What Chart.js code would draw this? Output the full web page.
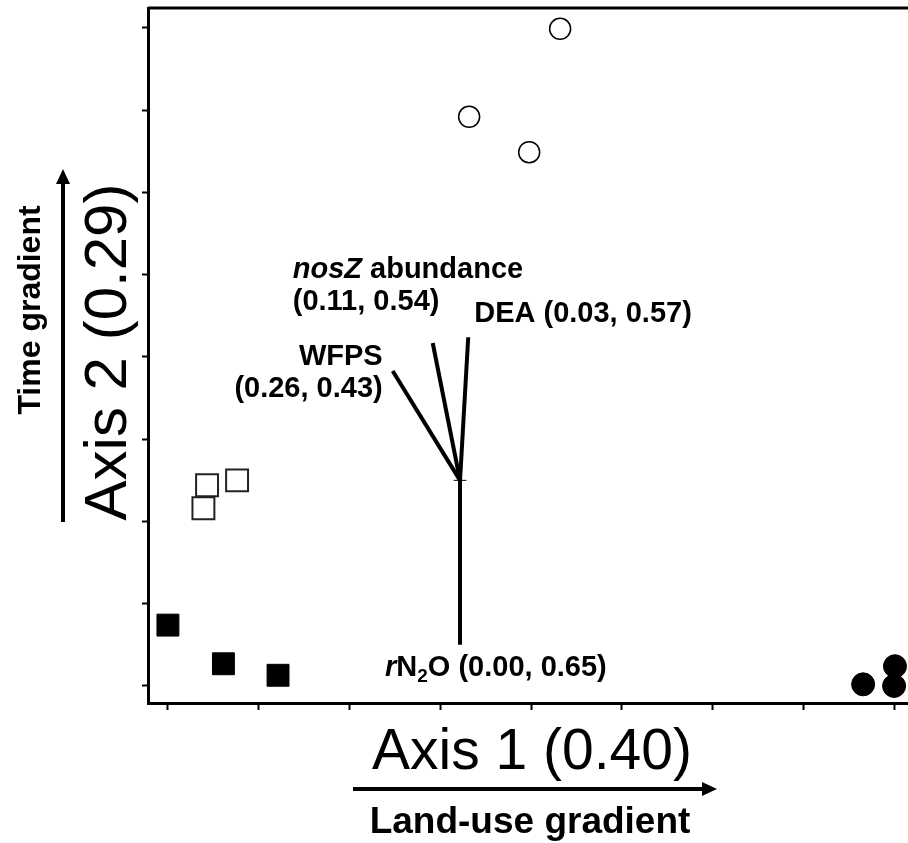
<!DOCTYPE html>
<html>
<head>
<meta charset="utf-8">
<script src="https://cdn.jsdelivr.net/npm/chart.js@4.4.1/dist/chart.umd.min.js"></script>
<style>
  html, body { margin: 0; padding: 0; background: #fff; }
  canvas { display: block; }
</style>
</head>
<body>
<canvas id="ordChart" width="908" height="843"></canvas>
<script>
// tick positions (no tick labels on this plot)
const xTicks = [0, 1, 2, 3, 4, 5, 6, 7, 8];
const yTicks = [0, 1, 2, 3, 4, 5, 6, 7, 8];

// sample scores, one group per symbol
const openCircleX = [4.32, 3.32, 3.98];
const openCircleY = [7.99, 6.92, 6.49];
const openSquareX = [0.44, 0.77, 0.40];
const openSquareY = [2.44, 2.50, 2.16];
const filledSquareX = [0.01, 0.62, 1.22];
const filledSquareY = [0.74, 0.27, 0.13];
const filledCircleX = [7.65, 8.00, 7.99];
const filledCircleY = [0.02, 0.24, 0.00];

// environmental vectors
const vectorNames = ['rN2O', 'DEA', 'nosZ', 'WFPS'];
const vectorOrigin = [3.22, 2.50];
const vectorEndX = [3.22, 3.31, 2.92, 2.48];
const vectorEndY = [0.50, 4.24, 4.17, 3.83];
const vectorCoords = ['(0.00, 0.65)', '(0.03, 0.57)', '(0.11, 0.54)', '(0.26, 0.43)'];

const xTitle = 'Axis 1 (0.40)';
const yTitle = 'Axis 2 (0.29)';
const xGradient = 'Land-use gradient';
const yGradient = 'Time gradient';

const FONT = "'Liberation Sans', Arial, sans-serif";

function pts(xs, ys) {
  return xs.map((x, i) => ({ x: x, y: ys[i] }));
}

const vectorSets = vectorNames.map((n, i) => ({
  label: n,
  data: [{ x: vectorOrigin[0], y: vectorOrigin[1] }, { x: vectorEndX[i], y: vectorEndY[i] }],
  showLine: true,
  borderColor: '#000',
  borderWidth: 4,
  pointRadius: 0
}));

// little cross bar at the vector origin
vectorSets.push({
  label: 'origin',
  data: [{ x: vectorOrigin[0] - 0.07, y: vectorOrigin[1] }, { x: vectorOrigin[0] + 0.07, y: vectorOrigin[1] }],
  showLine: true,
  borderColor: '#000',
  borderWidth: 1,
  pointRadius: 0
});

// draws rich text pieces: [{t, italic, sub}]
function drawPieces(ctx, pieces, x, y, align, size) {
  const fontFor = p => (p.italic ? 'italic ' : '') + 'bold ' + (p.sub ? Math.round(size * 0.65) : size) + 'px ' + FONT;
  let total = 0;
  pieces.forEach(p => { ctx.font = fontFor(p); total += ctx.measureText(p.t).width; });
  let cx = align === 'right' ? x - total : (align === 'center' ? x - total / 2 : x);
  ctx.textAlign = 'left';
  ctx.textBaseline = 'middle';
  pieces.forEach(p => {
    ctx.font = fontFor(p);
    ctx.fillText(p.t, cx, p.sub ? y + size * 0.3 : y);
    cx += ctx.measureText(p.t).width;
  });
}

const extras = {
  id: 'extras',
  afterDraw(chart) {
    const ctx = chart.ctx;
    const a = chart.chartArea;
    const xs = chart.scales.x, ys = chart.scales.y;
    ctx.save();
    ctx.fillStyle = '#000';
    ctx.strokeStyle = '#000';

    // top frame line
    ctx.lineWidth = 3;
    ctx.beginPath();
    ctx.moveTo(a.left, a.top);
    ctx.lineTo(a.right, a.top);
    ctx.stroke();

    // vector labels, offset from the vector tips
    const ex = i => xs.getPixelForValue(vectorEndX[i]);
    const ey = i => ys.getPixelForValue(vectorEndY[i]);
    drawPieces(ctx, [{ t: 'r', italic: true }, { t: 'N' }, { t: '2', sub: true }, { t: 'O ' + vectorCoords[0] }], ex(0) - 75, ey(0) + 23, 'left', 29);
    drawPieces(ctx, [{ t: 'DEA ' + vectorCoords[1] }], ex(1) + 6, ey(1) - 23, 'left', 29);
    drawPieces(ctx, [{ t: 'nosZ', italic: true }, { t: ' abundance' }], ex(2) - 140, ey(2) - 73, 'left', 29);
    drawPieces(ctx, [{ t: vectorCoords[2] }], ex(2) - 140, ey(2) - 41, 'left', 29);
    drawPieces(ctx, [{ t: 'WFPS' }], ex(3) - 10, ey(3) - 14, 'right', 29);
    drawPieces(ctx, [{ t: vectorCoords[3] }], ex(3) - 10, ey(3) + 18, 'right', 29);

    // x axis title + gradient arrow
    ctx.textAlign = 'center';
    ctx.textBaseline = 'alphabetic';
    ctx.font = '57px ' + FONT;
    ctx.fillText(xTitle, 532, 769);
    ctx.font = 'bold 37px ' + FONT;
    ctx.fillText(xGradient, 530, 833);

    ctx.lineWidth = 4;
    ctx.beginPath();
    ctx.moveTo(353, 789);
    ctx.lineTo(705, 789);
    ctx.stroke();
    ctx.beginPath();
    ctx.moveTo(717, 789);
    ctx.lineTo(702, 782);
    ctx.lineTo(702, 796);
    ctx.closePath();
    ctx.fill();

    // y axis title + gradient arrow
    ctx.save();
    ctx.translate(126, 352);
    ctx.rotate(-Math.PI / 2);
    ctx.font = '60px ' + FONT;
    ctx.fillText(yTitle, 0, 0);
    ctx.restore();

    ctx.save();
    ctx.translate(40, 310);
    ctx.rotate(-Math.PI / 2);
    ctx.font = 'bold 32px ' + FONT;
    ctx.fillText(yGradient, 0, 0);
    ctx.restore();

    ctx.beginPath();
    ctx.moveTo(63, 522);
    ctx.lineTo(63, 181);
    ctx.stroke();
    ctx.beginPath();
    ctx.moveTo(63, 169);
    ctx.lineTo(56, 184);
    ctx.lineTo(70, 184);
    ctx.closePath();
    ctx.fill();

    ctx.restore();
  }
};

const ctx = document.getElementById('ordChart').getContext('2d');
const ordChart = new Chart(ctx, {
  type: 'scatter',
  data: {
    datasets: [
      {
        label: 'open circles',
        data: pts(openCircleX, openCircleY),
        pointStyle: 'circle',
        pointRadius: 10.5,
        backgroundColor: '#fff',
        borderColor: '#000',
        borderWidth: 1.5
      },
      {
        label: 'open squares',
        data: pts(openSquareX, openSquareY),
        pointStyle: 'rect',
        pointRadius: 15.5,
        backgroundColor: '#fff',
        borderColor: '#222',
        borderWidth: 2
      },
      {
        label: 'filled squares',
        data: pts(filledSquareX, filledSquareY),
        pointStyle: 'rect',
        pointRadius: 15.5,
        backgroundColor: '#000',
        borderColor: '#000',
        borderWidth: 1
      },
      {
        label: 'filled circles',
        data: pts(filledCircleX, filledCircleY),
        pointStyle: 'circle',
        pointRadius: 11.5,
        backgroundColor: '#000',
        borderColor: '#000',
        borderWidth: 1
      }
    ].concat(vectorSets)
  },
  options: {
    responsive: false,
    devicePixelRatio: 1,
    animation: false,
    events: [],
    layout: { autoPadding: false, padding: { top: 8, right: 0, bottom: 0, left: 0 } },
    plugins: {
      legend: { display: false },
      tooltip: { enabled: false }
    },
    scales: {
      x: {
        type: 'linear',
        min: -0.209,
        max: 8.143,
        afterBuildTicks: s => { s.ticks = xTicks.map(v => ({ value: v })); },
        afterFit: s => { s.height = 140; },
        ticks: { display: false },
        grid: { drawOnChartArea: false, drawTicks: true, tickLength: 7, tickWidth: 2, tickColor: '#000' },
        border: { display: true, width: 3, color: '#000' }
      },
      y: {
        type: 'linear',
        min: -0.207,
        max: 8.243,
        afterBuildTicks: s => { s.ticks = yTicks.map(v => ({ value: v })); },
        afterFit: s => { s.width = 148; },
        ticks: { display: false },
        grid: { drawOnChartArea: false, drawTicks: true, tickLength: 6, tickWidth: 2, tickColor: '#000' },
        border: { display: true, width: 3, color: '#000' }
      }
    }
  },
  plugins: [extras]
});
</script>
</body>
</html>
